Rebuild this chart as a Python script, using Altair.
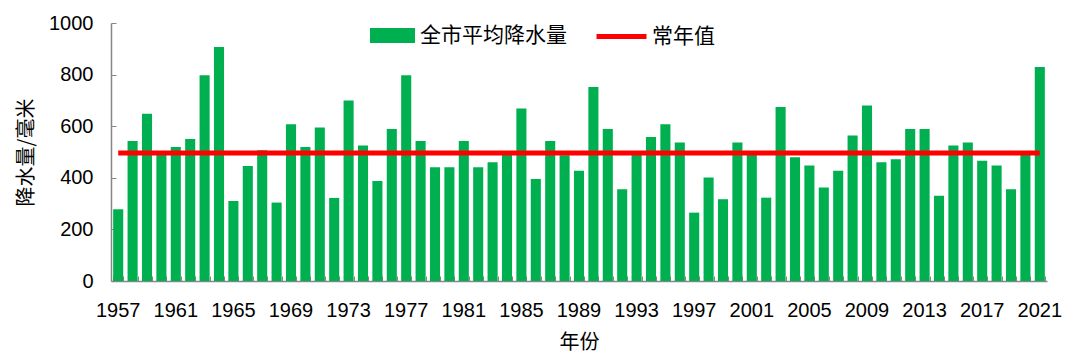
import altair as alt
import pandas as pd

years = list(range(1957, 2022))
rain = [278, 543, 648, 490, 519, 550, 797, 907, 310, 446,
        507, 304, 608, 519, 595, 322, 700, 525, 388, 589,
        797, 543, 441, 441, 543, 441, 460, 493, 669, 395,
        543, 487, 427, 752, 589, 356, 495, 558, 608, 537,
        265, 401, 317, 537, 494, 323, 674, 480, 448, 362,
        427, 564, 680, 460, 472, 589, 589, 330, 525, 537,
        466, 448, 356, 490, 829]
normal_value = 496
label_years = list(range(1957, 2022, 4))
y_ticks = [0, 200, 400, 600, 800, 1000]

df = pd.DataFrame({
    "year": years,
    "rain": rain,
    "normal": [normal_value] * len(years),
    "s1": ["全市平均降水量"] * len(years),
    "s2": ["常年值"] * len(years),
})

W, H = 936, 258
CJK = "Noto Sans CJK SC"
NUM = "Liberation Sans"
AXC = "#868686"

xscale = alt.Scale(paddingInner=0.3, paddingOuter=0.15)
yscale = alt.Scale(domain=[0, 1000], nice=False)

bars = alt.Chart(df).mark_bar(color="#00B050").encode(
    x=alt.X("year:O", scale=xscale,
            axis=alt.Axis(values=label_years, labelAngle=0, ticks=False, tickSize=0,
                          labelPadding=19, labelFont=NUM, labelFontSize=20,
                          labelColor="black", domainColor=AXC, domainWidth=1.5,
                          title="年份", titleFont=CJK, titleFontSize=20,
                          titleFontWeight="normal", titleColor="black",
                          titlePadding=12, grid=False)),
    y=alt.Y("rain:Q", scale=yscale,
            axis=alt.Axis(values=y_ticks, format="d", ticks=False, tickSize=0, labelPadding=18,
                          labelFont=NUM, labelFontSize=20, labelColor="black",
                          domainColor=AXC, domainWidth=1.5, grid=False,
                          title="降水量/毫米", titleFont=CJK, titleFontSize=20,
                          titleFontWeight="normal", titleColor="black",
                          titlePadding=12)),
    fill=alt.Fill("s1:N", scale=alt.Scale(domain=["全市平均降水量"], range=["#00B050"]),
                  legend=alt.Legend(title=None, orient="none", legendX=259, legendY=-10,
                                    symbolType="M-1,-0.333H1V0.333H-1Z", symbolSize=2025,
                                    symbolStrokeWidth=0, labelOffset=5, padding=0,
                                    labelFont=CJK, labelFontSize=21, labelColor="black")),
)

line = alt.Chart(df).mark_line(color="#FF0000", strokeWidth=5).encode(
    x=alt.X("year:O", scale=xscale,
            axis=alt.Axis(orient="top", offset=-H, labels=False, domain=False,
                          tickBand="extent", tickSize=5, tickColor=AXC, tickWidth=1,
                          title=None, grid=False)),
    y=alt.Y("normal:Q", scale=yscale,
            axis=alt.Axis(orient="right", offset=-W, values=y_ticks, labels=False,
                          domain=False, tickSize=5, tickColor=AXC, tickWidth=1,
                          title=None, grid=False)),
    stroke=alt.Stroke("s2:N", scale=alt.Scale(domain=["常年值"], range=["#FF0000"]),
                      legend=alt.Legend(title=None, orient="none", legendX=483, legendY=-14,
                                        symbolType="stroke", symbolSize=2500,
                                        symbolStrokeWidth=5, labelOffset=3, padding=0,
                                        labelFont=CJK, labelFontSize=21, labelColor="black")),
)

chart = alt.layer(bars, line).resolve_axis(x="independent", y="independent").resolve_legend(
    fill="independent", stroke="independent"
).properties(
    width=W, height=H,
    padding={"left": 8, "top": 1, "right": 5, "bottom": 5},
    background="white",
).configure_view(stroke=None)

chart.save("out.html", embed_options={"renderer": "svg", "actions": False})
